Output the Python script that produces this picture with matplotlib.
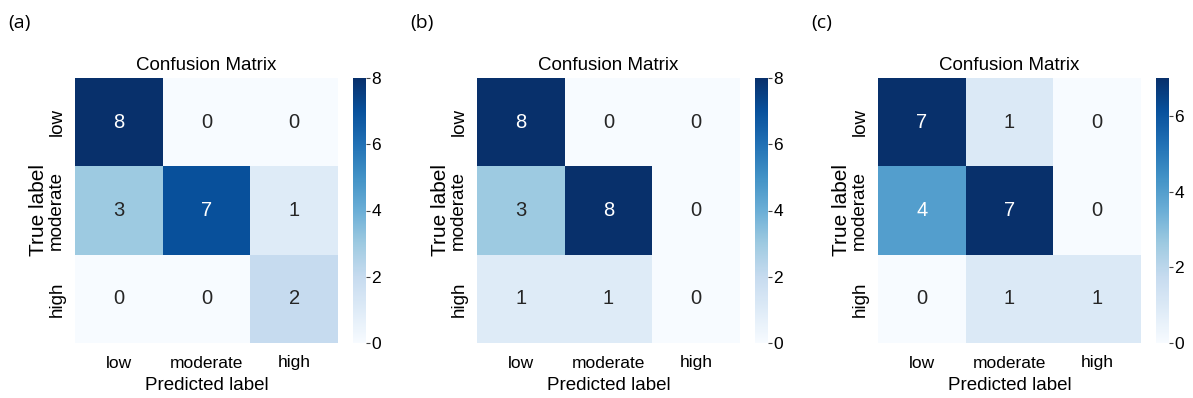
import numpy as np
import matplotlib
matplotlib.use("Agg")
import matplotlib.pyplot as plt
from matplotlib.ticker import MultipleLocator
import seaborn as sns

plt.rcParams['font.family'] = ['Liberation Sans', 'DejaVu Sans']

classes = ["low", "moderate", "high"]
panel_labels = ["(a)", "(b)", "(c)"]
cm_a = [[8, 0, 0], [3, 7, 1], [0, 0, 2]]
cm_b = [[8, 0, 0], [3, 8, 0], [1, 1, 0]]
cm_c = [[7, 1, 0], [4, 7, 0], [0, 1, 1]]
matrices = [cm_a, cm_b, cm_c]

fig = plt.figure(figsize=(11.93, 3.98), dpi=100)

ax_lefts = [75, 477, 878]
ax_w = 263
cb_off = 278
cb_w = 13
top_px, bot_px = 78, 343
W, H = 1193, 398

for i, cm in enumerate(matrices):
    l = ax_lefts[i]
    ax = fig.add_axes([l / W, 1 - bot_px / H, ax_w / W, (bot_px - top_px) / H])
    cax = fig.add_axes([(l + cb_off) / W, 1 - bot_px / H, cb_w / W, (bot_px - top_px) / H])
    data = np.array(cm)
    sns.heatmap(data, ax=ax, cbar_ax=cax, cmap="Blues", annot=True, fmt="d",
                annot_kws={"fontsize": 14.5}, xticklabels=classes, yticklabels=classes,
                vmin=0, vmax=data.max())
    ax.set_title("Confusion Matrix", fontsize=13.5, pad=6)
    ax.set_xlabel("Predicted label", fontsize=13.5, labelpad=5)
    ax.set_ylabel("True label", fontsize=15, labelpad=0)
    ax.tick_params(axis="x", length=0, labelsize=12.5, pad=9)
    ax.tick_params(axis="y", length=0, labelsize=13.5, pad=7)
    plt.setp(ax.get_yticklabels(), rotation=90, va="center")
    plt.setp(ax.get_xticklabels(), rotation=0)
    cax.yaxis.set_major_locator(MultipleLocator(2))
    cax.tick_params(labelsize=12.5, length=3, width=0.8, color="#444444", pad=1)
    for s in cax.spines.values():
        s.set_visible(False)
    fig.text((l - 67) / W, 1 - 23 / H, panel_labels[i], fontsize=14,
             family=['Open Sans', 'DejaVu Sans'], va="center", ha="left")

fig.savefig("out.png", dpi=100)
